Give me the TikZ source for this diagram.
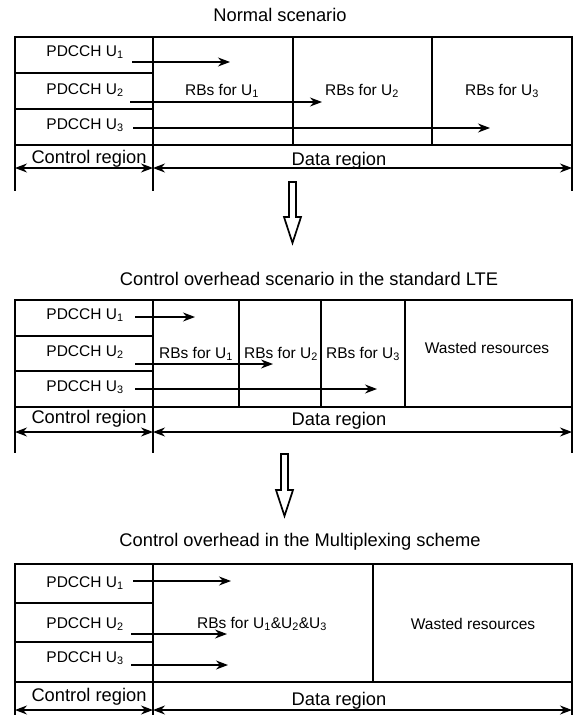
\documentclass[tikz,border=0pt]{standalone}
\usepackage{fontspec}
\setmainfont{Liberation Sans}
\usetikzlibrary{arrows.meta}

\newcommand{\ue}[1]{U\textsubscript{#1}}

\tikzset{
  txt/.style={inner sep=0pt,font=\fontsize{15.5}{17}\selectfont},
  lbl/.style={inner sep=0pt,font=\fontsize{18.3}{20}\selectfont},
  boxline/.style={line width=1.2pt},
  ptr/.style={-{Stealth[length=12pt,width=9pt]},line width=1.1pt},
  extent/.style={{Stealth[length=12pt,width=9pt]}-{Stealth[length=12pt,width=9pt]},line width=1.1pt},
  block/.style={line width=1.7pt,line join=miter}
}

\begin{document}
\begin{tikzpicture}[x=1pt,y=-1pt]
  \useasboundingbox (0,0) rectangle (579,715);

  % Normal scenario
  \node[lbl] (title1) at (280,15) {Normal scenario};
  \draw[boxline] (15,37) rectangle (572,145);
  \draw[boxline] (153,37) -- (153,145);
  \draw[boxline] (15,73) -- (153,73) (15,109) -- (153,109);
  \draw[boxline] (293,37) -- (293,145) (432,37) -- (432,145);
  \draw[boxline] (15,145) -- (15,191) (153,145) -- (153,191) (572,145) -- (572,191);

  \node[txt] (ctlA1) at (85,52) {PDCCH \ue1};
  \node[txt] (ctlA2) at (85,90) {PDCCH \ue2};
  \node[txt] (ctlA3) at (85,125) {PDCCH \ue3};
  \node[txt] (rbA1) at (222,91) {RBs for \ue1};
  \node[txt] (rbA2) at (362,91) {RBs for \ue2};
  \node[txt] (rbA3) at (502,91) {RBs for \ue3};

  \coordinate (fromA1) at (132,62);  \coordinate (toA1) at (230,62);
  \coordinate (fromA2) at (130,102); \coordinate (toA2) at (322,102);
  \coordinate (fromA3) at (133,128); \coordinate (toA3) at (490,128);
  \draw[ptr] (fromA1) -- (toA1);
  \draw[ptr] (fromA2) -- (toA2);
  \draw[ptr] (fromA3) -- (toA3);

  \coordinate (leftA) at (15,168); \coordinate (midA) at (153,168); \coordinate (rightA) at (572,168);
  \draw[extent] (leftA) -- (midA);
  \draw[extent] (midA) -- (rightA);
  \node[lbl] (ctlregA) at (89,159) {Control region};
  \node[lbl] (datregA) at (339,161) {Data region};

  % hollow arrow
  \draw[block] (289,182) -- (296,182) -- (296,217) -- (301,217) -- (292.5,243)
    -- (284,217) -- (289,217) -- cycle;

  % Standard LTE
  \node[lbl] (title2) at (309,279) {Control overhead scenario in the standard LTE};
  \draw[boxline] (15,300) rectangle (572,407);
  \draw[boxline] (153,300) -- (153,407);
  \draw[boxline] (15,336) -- (153,336) (15,371) -- (153,371);
  \draw[boxline] (239,300) -- (239,407) (321,300) -- (321,407) (405,300) -- (405,407);
  \draw[boxline] (15,407) -- (15,453) (153,407) -- (153,453) (572,407) -- (572,453);

  \node[txt] (ctlB1) at (85,315) {PDCCH \ue1};
  \node[txt] (ctlB2) at (85,352) {PDCCH \ue2};
  \node[txt] (ctlB3) at (85,387) {PDCCH \ue3};
  \node[txt] (rbB1) at (196,354) {RBs for \ue1};
  \node[txt] (rbB2) at (281,354) {RBs for \ue2};
  \node[txt] (rbB3) at (363,354) {RBs for \ue3};
  \node[txt] (wasteB) at (487,348) {Wasted resources};

  \coordinate (fromB1) at (135,317); \coordinate (toB1) at (195,317);
  \coordinate (fromB2) at (135,364); \coordinate (toB2) at (273,364);
  \coordinate (fromB3) at (135,389); \coordinate (toB3) at (377,389);
  \draw[ptr] (fromB1) -- (toB1);
  \draw[ptr] (fromB2) -- (toB2);
  \draw[ptr] (fromB3) -- (toB3);

  \coordinate (leftB) at (15,432); \coordinate (midB) at (153,432); \coordinate (rightB) at (572,432);
  \draw[extent] (leftB) -- (midB);
  \draw[extent] (midB) -- (rightB);
  \node[lbl] (ctlregB) at (89,419) {Control region};
  \node[lbl] (datregB) at (339,421) {Data region};

  % hollow arrow
  \draw[block] (281,454) -- (288,454) -- (288,490) -- (293,490) -- (284.5,516)
    -- (276,490) -- (281,490) -- cycle;

  % Multiplexing scheme
  \node[lbl] (title3) at (300,542) {Control overhead in the Multiplexing scheme};
  \draw[boxline] (15,564) rectangle (572,682);
  \draw[boxline] (153,564) -- (153,682);
  \draw[boxline] (15,603) -- (153,603) (15,642) -- (153,642);
  \draw[boxline] (373,564) -- (373,682);
  \draw[boxline] (15,682) -- (15,715) (153,682) -- (153,715) (572,682) -- (572,715);

  \node[txt] (ctlC1) at (85,583) {PDCCH \ue1};
  \node[txt] (ctlC2) at (85,624) {PDCCH \ue2};
  \node[txt] (ctlC3) at (85,658) {PDCCH \ue3};
  \node[txt] (rbC) at (262,624) {RBs for \ue1\&\ue2\&\ue3};
  \node[txt] (wasteC) at (473,624) {Wasted resources};

  \coordinate (fromC1) at (133,581); \coordinate (toC1) at (231,581);
  \coordinate (fromC2) at (131,634); \coordinate (toC2) at (227,634);
  \coordinate (fromC3) at (131,665); \coordinate (toC3) at (228,665);
  \draw[ptr] (fromC1) -- (toC1);
  \draw[ptr] (fromC2) -- (toC2);
  \draw[ptr] (fromC3) -- (toC3);

  \coordinate (leftC) at (15,710); \coordinate (midC) at (153,710); \coordinate (rightC) at (572,710);
  \draw[extent] (leftC) -- (midC);
  \draw[extent] (midC) -- (rightC);
  \node[lbl] (ctlregC) at (89,697) {Control region};
  \node[lbl] (datregC) at (339,701) {Data region};

\end{tikzpicture}
\end{document}
